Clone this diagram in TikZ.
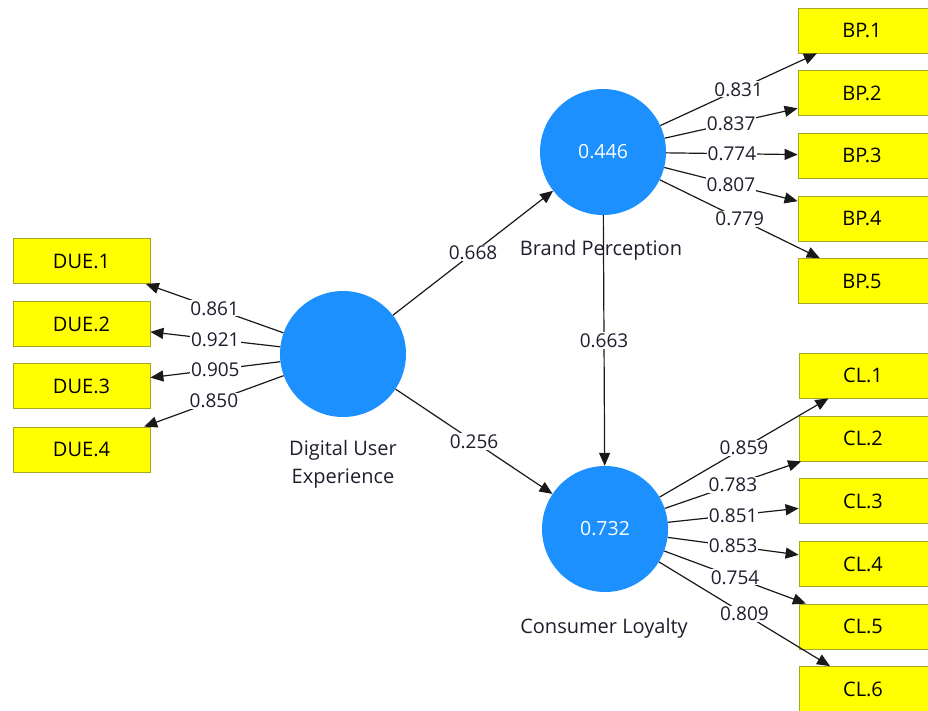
\documentclass[tikz,border=0pt]{standalone}
\usepackage{fontspec}
\setmainfont{Open Sans}
\usetikzlibrary{arrows.meta}

\definecolor{lvblue}{RGB}{28,144,255}
\definecolor{mvyellow}{RGB}{255,255,0}
\definecolor{mvborder}{RGB}{165,165,40}
\definecolor{inktext}{RGB}{30,30,45}

\begin{document}
\begin{tikzpicture}[x=1pt,y=-1pt,
  lv/.style={circle,fill=lvblue,minimum size=126pt,inner sep=0pt,text=white,font=\fontsize{19.5}{20}\selectfont},
  mv/.style={rectangle,draw=mvborder,line width=0.8pt,fill=mvyellow,minimum width=137pt,minimum height=45pt,inner sep=0pt,font=\fontsize{20}{22}\selectfont},
  lvname/.style={align=center,text=inktext,font=\fontsize{20}{28}\selectfont},
  load/.style={fill=white,inner sep=1pt,text=inktext,font=\fontsize{19}{20}\selectfont},
  link/.style={-{Triangle[length=13pt,width=11pt]},line width=1.2pt,black!90}]
\clip (0,0) rectangle (928,710);

% latent variables
\node[lv] (due) at (343,354) {};
\node[lv] (bp) at (603,152) {0.446};
\node[lv] (cl) at (605,529) {0.732};
\node[lvname] (duename) at (343,464) {Digital User\\Experience};
\node[lvname] (bpname) at (601,250) {Brand Perception};
\node[lvname] (clname) at (604,628) {Consumer Loyalty};

% indicators
\node[mv] (due1) at (81.5,261) {DUE.1};
\node[mv] (due2) at (81.5,324) {DUE.2};
\node[mv] (due3) at (81.5,386) {DUE.3};
\node[mv] (due4) at (81.5,449.5) {DUE.4};

\node[mv] (bp1) at (866.5,30.5) {\hspace*{-9pt}BP.1};
\node[mv] (bp2) at (866.5,93) {\hspace*{-9pt}BP.2};
\node[mv] (bp3) at (866.5,155.5) {\hspace*{-9pt}BP.3};
\node[mv] (bp4) at (866.5,218.5) {\hspace*{-9pt}BP.4};
\node[mv] (bp5) at (866.5,281) {\hspace*{-9pt}BP.5};

\node[mv] (cl1) at (867.5,375.5) {\hspace*{-9pt}CL.1};
\node[mv] (cl2) at (867.5,438.5) {\hspace*{-9pt}CL.2};
\node[mv] (cl3) at (867.5,501) {\hspace*{-9pt}CL.3};
\node[mv] (cl4) at (867.5,564) {\hspace*{-9pt}CL.4};
\node[mv] (cl5) at (867.5,626.5) {\hspace*{-9pt}CL.5};
\node[mv] (cl6) at (867.5,689) {\hspace*{-9pt}CL.6};

% structural paths
\draw[link] (due) -- node[load] {0.668} (bp);
\draw[link] (due) -- node[load] {0.256} (cl);
\draw[link] (bp) -- node[load] {0.663} (cl);

% outer loadings
\draw[link] (due) -- node[load] {0.861} (due1);
\draw[link] (due) -- node[load] {0.921} (due2);
\draw[link] (due) -- node[load] {0.905} (due3);
\draw[link] (due) -- node[load] {0.850} (due4);

\draw[link] (bp) -- node[load] {0.831} (bp1);
\draw[link] (bp) -- node[load] {0.837} (bp2);
\draw[link] (bp) -- node[load] {0.774} (bp3);
\draw[link] (bp) -- node[load] {0.807} (bp4);
\draw[link] (bp) -- node[load] {0.779} (bp5);

\draw[link] (cl) -- node[load] {0.859} (cl1);
\draw[link] (cl) -- node[load] {0.783} (cl2);
\draw[link] (cl) -- node[load] {0.851} (cl3);
\draw[link] (cl) -- node[load] {0.853} (cl4);
\draw[link] (cl) -- node[load] {0.754} (cl5);
\draw[link] (cl) -- node[load] {0.809} (cl6);
\end{tikzpicture}
\end{document}
